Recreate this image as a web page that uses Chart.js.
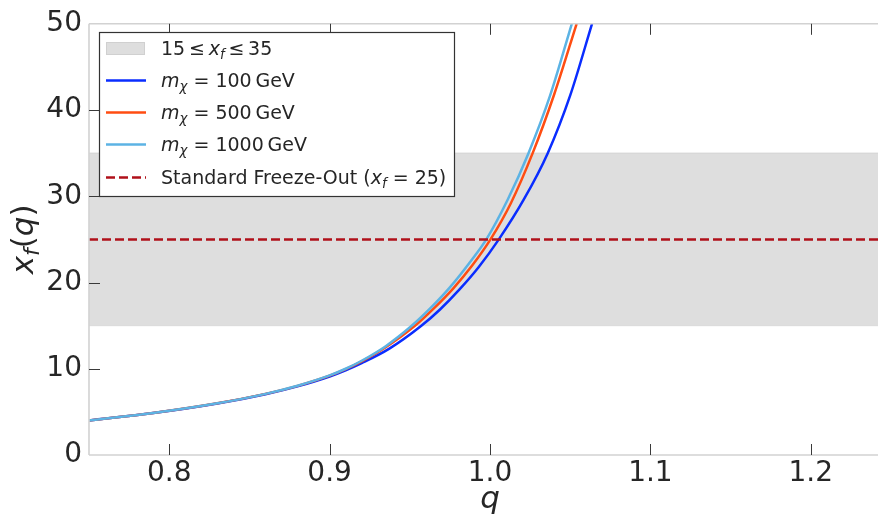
<!DOCTYPE html>
<html>
<head>
<meta charset="utf-8">
<script src="https://cdn.jsdelivr.net/npm/chart.js@4.4.0/dist/chart.umd.min.js"></script>
<style>
  html, body { margin: 0; padding: 0; background: #ffffff; overflow: hidden; }
  #wrap { width: 878px; height: 518px; overflow: hidden; position: relative; }
  canvas { display: block; }
</style>
</head>
<body>
<div id="wrap"><canvas id="c" width="892" height="518"></canvas></div>
<script>
// Freeze-out parameter x_f as a function of q for three WIMP masses
const xTickValues = [0.8, 0.9, 1.0, 1.1, 1.2];
const yTickValues = [0, 10, 20, 30, 40, 50];

const q100  = [0.75, 0.79, 0.83, 0.86, 0.88, 0.90, 0.91, 0.92, 0.937, 0.957, 0.969, 0.981, 0.993, 1.0055, 1.021, 1.036, 1.050, 1.0636];
const xf100 = [4.0, 4.86, 5.97, 7.05, 7.96, 9.1, 9.82, 10.65, 12.3, 14.95, 16.9, 19.2, 21.8, 25.0, 29.6, 35.0, 41.7, 50.0];

const q500  = [0.75, 0.79, 0.83, 0.86, 0.88, 0.90, 0.91, 0.92, 0.935, 0.953, 0.965, 0.977, 0.989, 1.0003, 1.013, 1.0266, 1.040, 1.054];
const xf500 = [4.0, 4.87, 5.99, 7.09, 8.02, 9.2, 9.96, 10.86, 12.5, 14.95, 17.0, 19.3, 22.0, 25.0, 29.2, 35.0, 41.8, 50.0];

const q1000  = [0.75, 0.79, 0.83, 0.86, 0.88, 0.90, 0.91, 0.92, 0.935, 0.951, 0.963, 0.975, 0.987, 0.998, 1.011, 1.024, 1.0375, 1.051];
const xf1000 = [4.0, 4.87, 5.99, 7.09, 8.03, 9.23, 10.0, 10.93, 12.62, 14.95, 17.05, 19.44, 22.24, 25.1, 29.6, 35.0, 41.7, 50.0];

const qRange = [0.75, 1.25];
const bandLow = 15;
const bandHigh = 35;
const xfStandard = 25;

const colors = {
  m100: '#0a2dff',
  m500: '#ff4d12',
  m1000: '#5cb3e4',
  standard: '#b0101a',
  band: '#dedede',
  bandEdge: '#d0d0d0'
};

const FONT = '"DejaVu Sans", "Liberation Sans", sans-serif';

function pts(xs, ys) { return xs.map((x, i) => ({ x: x, y: ys[i] })); }
function flat(v) { return qRange.map(x => ({ x: x, y: v })); }

// Legend rows: rich-text parts (it = italic, sub = subscript)
const legendRows = [
  { kind: 'patch', color: colors.band,
    parts: [{ t: '15\u2009' }, { t: '\u2264\u2009' }, { t: 'x', it: true }, { t: 'f', it: true, sub: true }, { t: '\u2009\u2264\u2009' }, { t: '35' }] },
  { kind: 'line', color: colors.m100,
    parts: [{ t: 'm', it: true }, { t: '\u03c7', it: true, sub: true }, { t: ' = ' }, { t: '100\u2009GeV' }] },
  { kind: 'line', color: colors.m500,
    parts: [{ t: 'm', it: true }, { t: '\u03c7', it: true, sub: true }, { t: ' = ' }, { t: '500\u2009GeV' }] },
  { kind: 'line', color: colors.m1000,
    parts: [{ t: 'm', it: true }, { t: '\u03c7', it: true, sub: true }, { t: ' = ' }, { t: '1000\u2009GeV' }] },
  { kind: 'dash', color: colors.standard,
    parts: [{ t: 'Standard Freeze-Out (' }, { t: 'x', it: true }, { t: 'f', it: true, sub: true }, { t: ' = 25)' }] }
];

function partFont(p, size) {
  const s = p.sub ? size * 0.7 : size;
  return (p.it ? 'oblique ' : '') + s.toFixed(1) + 'px ' + FONT;
}
function richWidth(ctx, parts, size) {
  let w = 0;
  for (const p of parts) { ctx.font = partFont(p, size); w += ctx.measureText(p.t).width; }
  return w;
}
function drawRich(ctx, x, y, parts, size, align) {
  let cx = x;
  if (align === 'center') cx = x - richWidth(ctx, parts, size) / 2;
  ctx.textBaseline = 'alphabetic';
  ctx.textAlign = 'left';
  for (const p of parts) {
    ctx.font = partFont(p, size);
    ctx.fillText(p.t, cx, p.sub ? y + size * 0.2 : y);
    cx += ctx.measureText(p.t).width;
  }
}

const framePlugin = {
  id: 'frame',
  afterDraw(chart) {
    const ctx = chart.ctx;
    const a = chart.chartArea;
    const xs = chart.scales.x, ys = chart.scales.y;
    ctx.save();
    // spines
    ctx.strokeStyle = '#d2d2d2';
    ctx.lineWidth = 1.6;
    ctx.beginPath();
    ctx.moveTo(a.left, a.top); ctx.lineTo(a.right, a.top);
    ctx.moveTo(a.left, a.top); ctx.lineTo(a.left, a.bottom);
    ctx.moveTo(a.left, a.bottom); ctx.lineTo(a.right, a.bottom);
    ctx.stroke();
    // inward tick marks
    ctx.strokeStyle = '#3a3a3a';
    ctx.lineWidth = 1;
    ctx.beginPath();
    for (const v of xTickValues) {
      const px = Math.round(xs.getPixelForValue(v)) + 0.5;
      ctx.moveTo(px, a.bottom); ctx.lineTo(px, a.bottom - 11);
      ctx.moveTo(px, a.top); ctx.lineTo(px, a.top + 11);
    }
    for (const v of yTickValues) {
      if (v === ys.min || v === ys.max) continue;
      const py = Math.round(ys.getPixelForValue(v)) + 0.5;
      ctx.moveTo(a.left, py); ctx.lineTo(a.left + 11, py);
    }
    ctx.stroke();

    // axis titles
    ctx.fillStyle = '#262626';
    drawRich(ctx, (a.left + a.right) / 2, 508, [{ t: 'q', it: true }], 31, 'center');
    ctx.save();
    ctx.translate(23, (a.top + a.bottom) / 2);
    ctx.rotate(-Math.PI / 2);
    drawRich(ctx, 0, 10, [{ t: 'x', it: true }, { t: 'f', it: true, sub: true }, { t: '(' }, { t: 'q', it: true }, { t: ')' }], 31, 'center');
    ctx.restore();

    // legend box
    const bx = 99.5, by = 32.5, bw = 355, bh = 164;
    ctx.fillStyle = '#ffffff';
    ctx.fillRect(bx, by, bw, bh);
    ctx.strokeStyle = '#333333';
    ctx.lineWidth = 1.2;
    ctx.strokeRect(bx, by, bw, bh);
    const baselines = [55, 87, 119, 151, 184];
    legendRows.forEach((row, i) => {
      const base = baselines[i];
      const cy = base - 6.5;
      if (row.kind === 'patch') {
        ctx.fillStyle = row.color;
        ctx.fillRect(106, cy - 6.5, 39, 13);
        ctx.strokeStyle = colors.bandEdge;
        ctx.lineWidth = 1;
        ctx.strokeRect(106.5, cy - 6, 38, 12);
      } else {
        ctx.strokeStyle = row.color;
        ctx.lineWidth = 2.5;
        ctx.setLineDash(row.kind === 'dash' ? [9, 4] : []);
        ctx.beginPath();
        ctx.moveTo(106, cy); ctx.lineTo(146, cy);
        ctx.stroke();
        ctx.setLineDash([]);
      }
      ctx.fillStyle = '#262626';
      drawRich(ctx, 161, base, row.parts, 19, 'left');
    });
    ctx.restore();
  }
};

new Chart(document.getElementById('c'), {
  type: 'line',
  data: {
    datasets: [
      { label: 'band-top', data: flat(bandHigh), borderColor: colors.bandEdge, borderWidth: 1,
        backgroundColor: colors.band, fill: '+1', pointRadius: 0, order: 7 },
      { label: 'band-bottom', data: flat(bandLow), borderColor: colors.bandEdge, borderWidth: 1,
        fill: false, pointRadius: 0, order: 8 },
      { label: 'm100', data: pts(q100, xf100), borderColor: colors.m100, borderWidth: 2.5,
        fill: false, pointRadius: 0, cubicInterpolationMode: 'monotone', order: 4 },
      { label: 'm500', data: pts(q500, xf500), borderColor: colors.m500, borderWidth: 2.5,
        fill: false, pointRadius: 0, cubicInterpolationMode: 'monotone', order: 3 },
      { label: 'm1000', data: pts(q1000, xf1000), borderColor: colors.m1000, borderWidth: 2.5,
        fill: false, pointRadius: 0, cubicInterpolationMode: 'monotone', order: 2 },
      { label: 'standard', data: flat(xfStandard), borderColor: colors.standard, borderWidth: 2.5,
        borderDash: [9, 4], fill: false, pointRadius: 0, order: 1 }
    ]
  },
  options: {
    responsive: false,
    animation: false,
    devicePixelRatio: 1,
    layout: { padding: { top: 22, right: 1, left: 0, bottom: 0 } },
    plugins: { legend: { display: false }, tooltip: { enabled: false } },
    scales: {
      x: {
        type: 'linear', min: qRange[0], max: qRange[1],
        grid: { display: false, drawTicks: false },
        border: { display: false },
        afterBuildTicks: s => { s.ticks = xTickValues.map(v => ({ value: v })); },
        afterFit: s => { s.height = 63; },
        ticks: { padding: 2, color: '#262626', font: { family: FONT, size: 28 },
                 maxRotation: 0, autoSkip: false, callback: v => Number(v).toFixed(1) }
      },
      y: {
        type: 'linear', min: 0, max: 50,
        grid: { display: false, drawTicks: false },
        border: { display: false },
        afterBuildTicks: s => { s.ticks = yTickValues.map(v => ({ value: v })); },
        afterFit: s => { s.width = 89; },
        ticks: { padding: 7, color: '#262626', font: { family: FONT, size: 28 } }
      }
    }
  },
  plugins: [framePlugin]
});
</script>
</body>
</html>
